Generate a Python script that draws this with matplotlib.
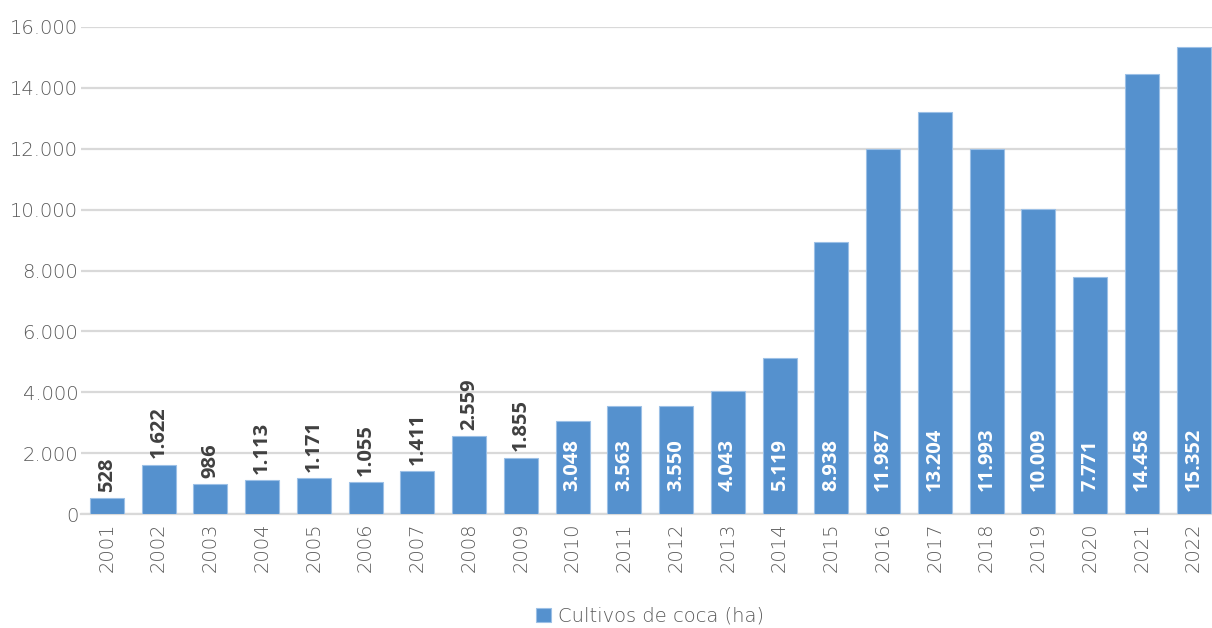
import matplotlib
matplotlib.use("Agg")
import matplotlib.pyplot as plt
from matplotlib.ticker import FuncFormatter

plt.rcParams['font.family'] = ['DejaVu Sans']

years = [str(y) for y in range(2001, 2023)]
values = [528, 1622, 986, 1113, 1171, 1055, 1411, 2559, 1855, 3048, 3563, 3550,
          4043, 5119, 8938, 11987, 13204, 11993, 10009, 7771, 14458, 15352]
series_name = "Cultivos de coca (ha)"
yticks = [0, 2000, 4000, 6000, 8000, 10000, 12000, 14000, 16000]

bar_color = "#5591CE"
grid_color = "#D9D9D9"
text_gray = "#595959"

fig = plt.figure(figsize=(12.12, 6.28), dpi=100)
ax = fig.add_axes([81/1212, 114/628, 1138.5/1212, 487/628])

x = list(range(len(years)))
bars = ax.bar(x, values, width=0.66, color=bar_color, edgecolor="#9CC0E6",
              linewidth=0.8, label=series_name, zorder=3)

ax.set_xlim(-0.5, len(years) - 0.5)
ax.set_ylim(0, 16000)
ax.set_yticks(yticks)
ax.yaxis.set_major_formatter(FuncFormatter(lambda v, p: f"{int(v):,}".replace(",", ".")))
ax.set_xticks(x)
ax.set_xticklabels(years, rotation=90)
ax.tick_params(axis='both', length=0, colors=text_gray, labelsize=14)
ax.tick_params(axis='x', pad=6)
ax.tick_params(axis='y', pad=2)
for lab in ax.get_yticklabels() + ax.get_xticklabels():
    lab.set_fontweight('light')

ax.grid(axis='y', color=grid_color, linewidth=1.6, zorder=0)
for s in ['top', 'right', 'left']:
    ax.spines[s].set_visible(False)
ax.spines['bottom'].set_color(grid_color)
ax.spines['bottom'].set_linewidth(1.6)

for xi, v in zip(x, values):
    lab = f"{v:,}".replace(",", ".")
    if v < 2700:
        ax.annotate(lab, (xi, v), xytext=(0, 4.5), textcoords='offset points',
                    rotation=90, ha='center', va='bottom', fontsize=14.5,
                    fontweight='bold', color="#404040", zorder=4,
                    family=['Open Sans', 'DejaVu Sans'])
    else:
        ax.annotate(lab, (xi, 0), xytext=(0, 16.5), textcoords='offset points',
                    rotation=90, ha='center', va='bottom', fontsize=14.5,
                    fontweight='bold', color="white", zorder=4,
                    family=['Open Sans', 'DejaVu Sans'])

leg = ax.legend(loc='upper center', bbox_to_anchor=(0.5, -0.182), frameon=False,
                borderaxespad=0, borderpad=0.2,
                fontsize=14, handlelength=0.75, handleheight=0.75, handletextpad=0.4)
for t in leg.get_texts():
    t.set_color(text_gray)
    t.set_fontweight('light')

fig.savefig("out.png", dpi=100)
